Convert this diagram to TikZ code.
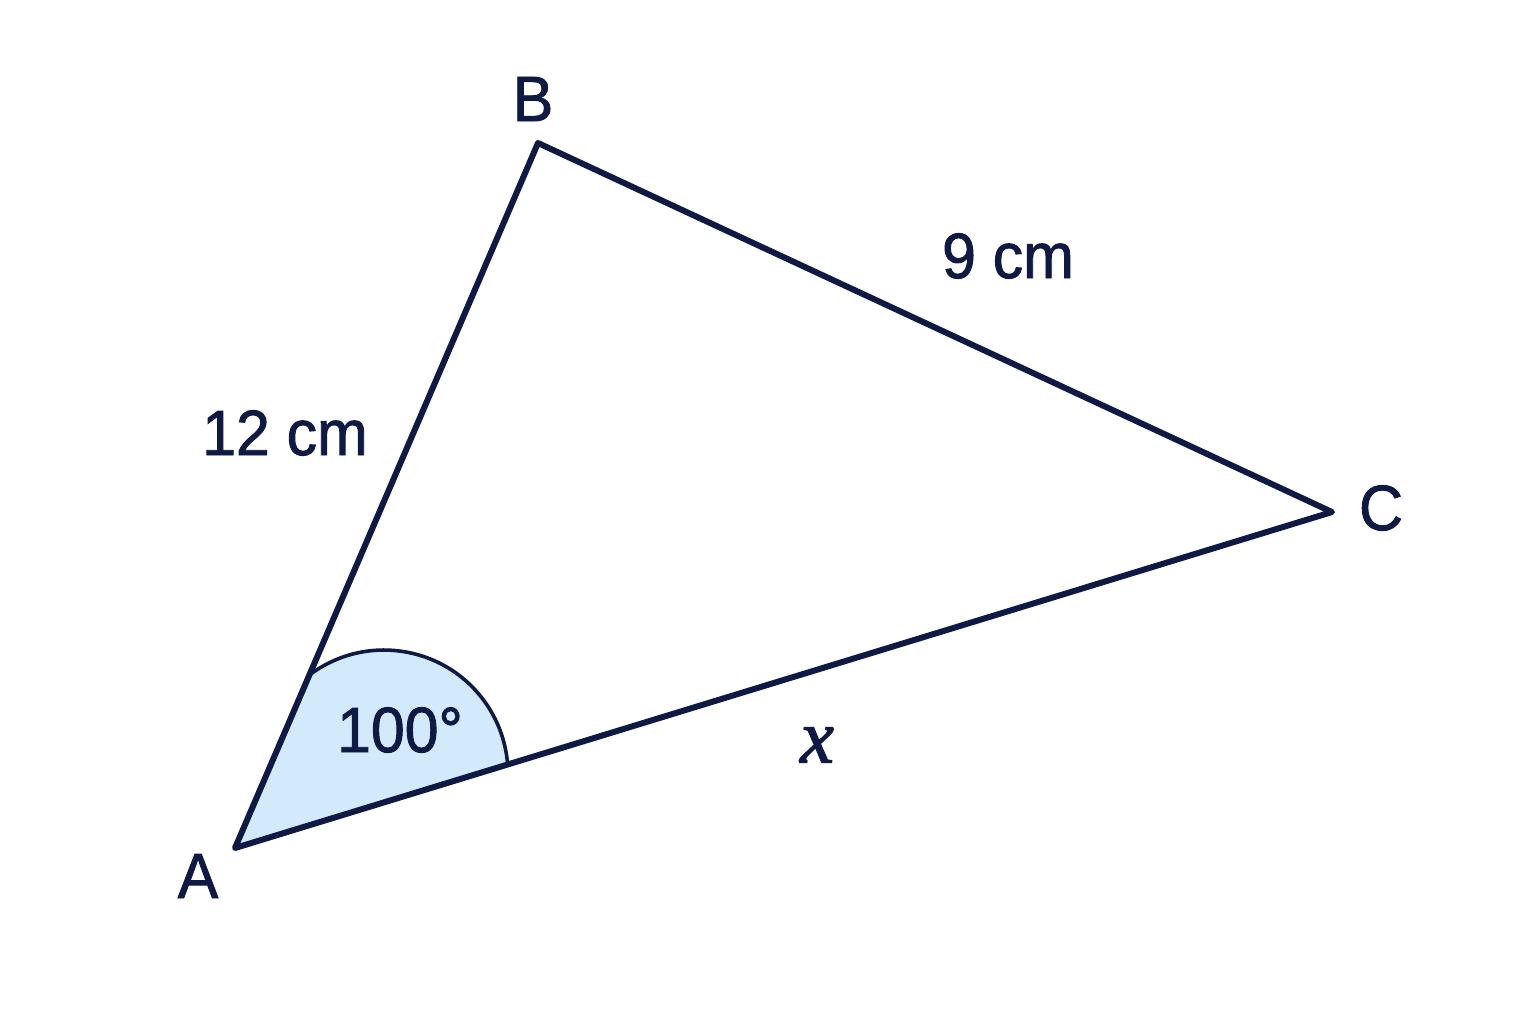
\documentclass[tikz,border=0pt]{standalone}
\usepackage{fontspec}
\setmainfont{Liberation Sans}[FakeBold=1.4,FakeStretch=0.95]
\newfontfamily\xfont{Liberation Serif}[FakeBold=1.8]
\definecolor{navy}{HTML}{0E1A44}
\definecolor{anglefill}{HTML}{D2EAFB}
\begin{document}
\begin{tikzpicture}[x=0.5pt,y=-0.5pt,
  side/.style={draw=navy,line width=3pt,line join=round,line cap=round},
  lbl/.style={text=navy,font=\fontsize{32}{38}\selectfont,inner sep=0pt,anchor=center},
  arcline/.style={draw=navy,line width=1.8pt}]
\useasboundingbox[fill=white] (0,0) rectangle (1536,1024);
\coordinate (A) at (235,848);
\coordinate (B) at (538,143);
\coordinate (C) at (1332,512);
\coordinate (P1) at (309.4,675);
\coordinate (P2) at (508,764.4);
% angle sector
\fill[anglefill] (A) -- (P1) arc[start angle=-127, end angle=-4.6, radius=124] -- cycle;
\draw[arcline] (P1) arc[start angle=-127, end angle=-4.6, radius=124];
% triangle
\draw[side] (A) -- (B) -- (C) -- cycle;
% labels
\node[lbl] (lA) at (198,876) {A};
\node[lbl] (lB) at (533,99) {B};
\node[lbl] (lC) at (1381,508) {C};
\node[lbl] (lAB) at (285,433) {12 cm};
\node[lbl] (lBC) at (1008,256) {9 cm};
\node[lbl] (lang) at (400,730) {100°};
\node[lbl,font=\xfont\itshape\fontsize{38}{44}\selectfont] (lx) at (817,745) {x};
\end{tikzpicture}
\end{document}
